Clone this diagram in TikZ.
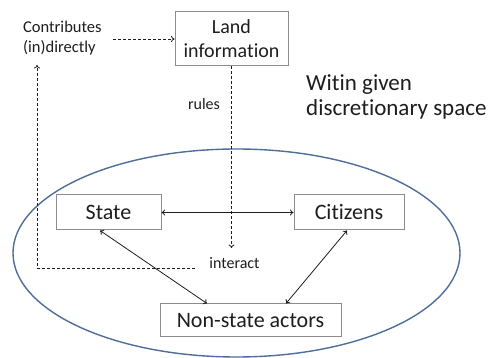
\documentclass[tikz,border=0pt]{standalone}
\usepackage{fontspec}
\setmainfont[Ligatures=NoCommon]{Carlito}
\usetikzlibrary{arrows.meta}
\definecolor{boxgray}{HTML}{8C8C8C}
\definecolor{ellblue}{HTML}{4F6E9C}
\definecolor{txt}{HTML}{1E1E1E}
\tikzset{
  box/.style={draw=boxgray, line width=1pt, rectangle, inner sep=0pt, text=txt, align=center},
  lbl/.style={text=txt, inner sep=0pt},
  dline/.style={line width=0.8pt, dash pattern=on 3pt off 2pt, color=txt},
  sline/.style={line width=0.8pt, color=txt},
  tip/.style={-{To[length=3.5pt,width=6pt]}},
  dtip/.style={{To[length=3.5pt,width=6pt]}-{To[length=3.5pt,width=6pt]}}
}
\begin{document}
\begin{tikzpicture}[x=1pt,y=-1pt]
\useasboundingbox[fill=white] (0,0) rectangle (491,358);
\draw[ellblue, line width=1.4pt] (236.5,253) ellipse [x radius=223.5, y radius=104];
\node[box, minimum width=113, minimum height=54, font=\fontsize{20}{24}\selectfont] (land) at (231.5,39) {Land\\information};
\node[box, minimum width=105, minimum height=35, font=\fontsize{22}{26}\selectfont] (state) at (108.5,212.5) {State};
\node[box, minimum width=110, minimum height=35, font=\fontsize{22}{26}\selectfont] (cit) at (349,212.5) {Citizens};
\node[box, minimum width=181, minimum height=33, font=\fontsize{22}{26}\selectfont] (nsa) at (250.5,320.5) {Non-state actors};
\node[lbl, anchor=west, align=left, font=\fontsize{16.5}{20}\selectfont] (contrib) at (23,38) {Contributes\\(in)directly};
\node[lbl, font=\fontsize{16}{19}\selectfont] (rules) at (204,104) {rules};
\node[lbl, font=\fontsize{16}{19}\selectfont] (interact) at (234.5,263) {interact};
\node[lbl, anchor=west, align=left, font=\fontsize{23}{25}\selectfont] (witin) at (306,97) {Witin given\\discretionary space};
\coordinate (c1) at (113,39);
\coordinate (c2) at (231.5,248);
\coordinate (c3) at (195,268);
\coordinate (c4) at (37,268);
\coordinate (c5) at (37,65);
\draw[dline, tip] (c1) -- (land.west);
\draw[dline, tip] (land.south) -- (c2);
\draw[dline, tip] (c3) -- (c4) -- (c5);
\draw[sline, dtip] (state.east) -- (cit.west);
\draw[sline, dtip] ([xshift=-8.5pt]state.south) -- ([xshift=-43.5pt]nsa.north);
\draw[sline, dtip] ([xshift=-2pt]cit.south) -- ([xshift=35.5pt]nsa.north);
\end{tikzpicture}
\end{document}
